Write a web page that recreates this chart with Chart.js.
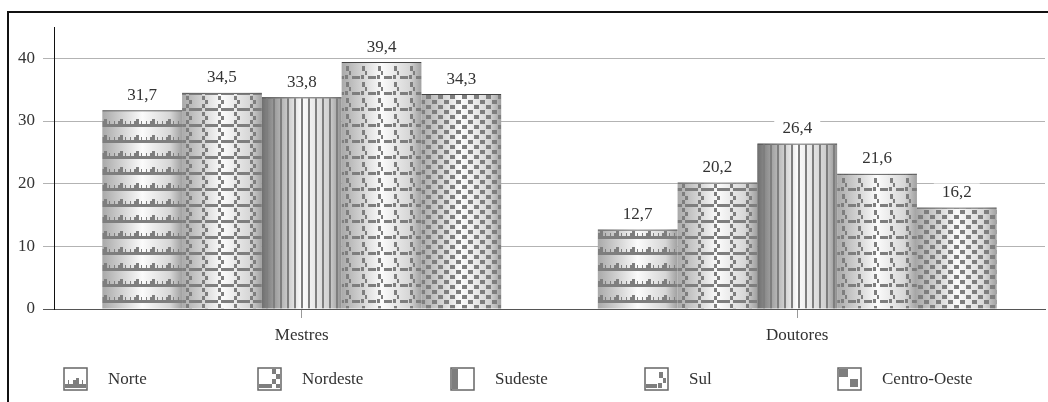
<!DOCTYPE html>
<html>
<head>
<meta charset="utf-8">
<script src="https://cdn.jsdelivr.net/npm/chart.js@4/dist/chart.umd.min.js"></script>
<style>
body { margin: 0; background: #fff; }
</style>
</head>
<body>
<canvas id="c" width="1048" height="402"></canvas>
<script>
const categories = ['Mestres', 'Doutores'];
const regions = ['Norte', 'Nordeste', 'Sudeste', 'Sul', 'Centro-Oeste'];
const norte = [31.7, 12.7];
const nordeste = [34.5, 20.2];
const sudeste = [33.8, 26.4];
const sul = [39.4, 21.6];
const centroOeste = [34.3, 16.2];
const yTicks = [0, 10, 20, 30, 40];

const FONT = '"Liberation Serif", "DejaVu Serif", serif';
const INK = '#555';

function makeTile(w, h, rects)
{
    const c = document.createElement('canvas');
    c.width = w; c.height = h;
    const g = c.getContext('2d');
    g.fillStyle = '#7e7e7e';
    rects.forEach(r => g.fillRect(r[0], r[1], r[2], r[3]));
    return c;
}

// one tile per region, gray marks on transparent
const tiles = [
    makeTile(16, 16, [[0, 12, 16, 3], [2, 9, 1, 3], [6, 9, 2, 3], [8, 7, 3, 5], [13, 9, 1, 3]]),
    makeTile(16, 16, [[0, 12, 10, 3], [10, 0, 3, 4], [13, 4, 3, 4], [10, 8, 3, 4], [13, 12, 3, 3]]),
    makeTile(7, 4, [[0, 0, 2, 4]]),
    makeTile(16, 16, [[0, 12, 8, 3], [10, 2, 3, 5], [13, 7, 2, 4], [9, 11, 3, 4]]),
    makeTile(12, 10, [[0, 0, 5, 4], [6, 5, 5, 4]])
];

const gradients = [
    ['#a9a9a9', '#fbfbfb', '#d6d6d6', '#a0a0a0'],
    ['#a9a9a9', '#fbfbfb', '#d6d6d6', '#a0a0a0'],
    ['#6f6f6f', '#fdfdfd', '#d0d0d0', '#909090'],
    ['#a9a9a9', '#fbfbfb', '#d6d6d6', '#a0a0a0'],
    ['#a9a9a9', '#fbfbfb', '#d6d6d6', '#a0a0a0']
];

const canvas = document.getElementById('c');
const ctx = canvas.getContext('2d');
const patterns = tiles.map(t => ctx.createPattern(t, 'repeat'));

function barDataset(i, values)
{
    return {
        label: regions[i],
        data: values,
        backgroundColor: patterns[i],
        borderColor: '#444',
        borderWidth: { top: 1, left: 0, right: 0, bottom: 0 },
        borderSkipped: false,
        categoryPercentage: 0.805,
        barPercentage: 1.0
    };
}

const cylinderPlugin = {
    id: 'cylinder',
    beforeDatasetsDraw(chart) {
        const c = chart.ctx;
        chart.data.datasets.forEach((ds, i) => {
            chart.getDatasetMeta(i).data.forEach(bar => {
                const left = bar.x - bar.width / 2;
                const g = c.createLinearGradient(left, 0, left + bar.width, 0);
                const s = gradients[i];
                g.addColorStop(0, s[0]);
                g.addColorStop(0.5, s[1]);
                g.addColorStop(0.85, s[2]);
                g.addColorStop(1, s[3]);
                c.fillStyle = g;
                c.fillRect(left, bar.y, bar.width, bar.base - bar.y);
            });
        });
    }
};

const labelPlugin = {
    id: 'valueLabels',
    afterDatasetsDraw(chart) {
        const c = chart.ctx;
        c.save();
        c.font = '17px ' + FONT;
        c.textAlign = 'center';
        c.textBaseline = 'middle';
        chart.data.datasets.forEach((ds, i) => {
            chart.getDatasetMeta(i).data.forEach((bar, j) => {
                const y = bar.y - 15;
                c.fillStyle = '#fff';
                c.fillRect(bar.x - 23, y - 9, 46, 18);
                c.fillStyle = '#333';
                c.fillText(ds.data[j].toFixed(1).replace('.', ','), bar.x, y);
            });
        });
        c.restore();
    }
};

const framePlugin = {
    id: 'frame',
    afterDraw(chart) {
        const c = chart.ctx;
        c.save();
        c.strokeStyle = '#111';
        c.lineWidth = 2;
        c.beginPath();
        c.moveTo(8, 402);
        c.lineTo(8, 12);
        c.lineTo(1048, 12);
        c.stroke();

        // legend
        c.font = '17px ' + FONT;
        c.textBaseline = 'middle';
        c.textAlign = 'left';
        regions.forEach((name, i) => {
            const x = Math.round(64 + i * 193.5);
            const y = 368;
            c.fillStyle = '#fff';
            c.fillRect(x, y, 23, 22);
            c.imageSmoothingEnabled = false;
            c.drawImage(tiles[i], x + 1, y + 1, 21, 20);
            c.strokeStyle = '#666';
            c.lineWidth = 1.5;
            c.strokeRect(x, y, 23, 22);
            c.fillStyle = '#333';
            c.fillText(name, x + 44, 380);
        });
        c.restore();
    }
};

new Chart(canvas, {
    type: 'bar',
    data: {
        labels: categories,
        datasets: [
            barDataset(0, norte),
            barDataset(1, nordeste),
            barDataset(2, sudeste),
            barDataset(3, sul),
            barDataset(4, centroOeste)
        ]
    },
    options: {
        responsive: false,
        animation: false,
        devicePixelRatio: 1,
        layout: { padding: { left: 0, right: 3, top: 27, bottom: 53 } },
        plugins: {
            legend: { display: false },
            tooltip: { enabled: false }
        },
        scales: {
            x: {
                grid: {
                    offset: false,
                    drawOnChartArea: false,
                    drawTicks: true,
                    tickLength: 9,
                    color: '#999'
                },
                border: { color: INK, width: 1 },
                ticks: { color: '#333', padding: 7, font: { family: FONT, size: 17 } },
                afterFit(scale) { scale.height = 40; }
            },
            y: {
                min: 0,
                max: 45,
                afterBuildTicks(scale) { scale.ticks = yTicks.map(v => ({ value: v })); },
                grid: {
                    color: ctx => ctx.tick && ctx.tick.value === 0 ? INK : '#b3b3b3',
                    tickLength: 11,
                    drawTicks: true
                },
                border: { color: '#111', width: 1 },
                ticks: { color: '#333', padding: 8, font: { family: FONT, size: 17 } },
                afterFit(scale) { scale.width = 54; }
            }
        }
    },
    plugins: [cylinderPlugin, labelPlugin, framePlugin]
});
</script>
</body>
</html>
